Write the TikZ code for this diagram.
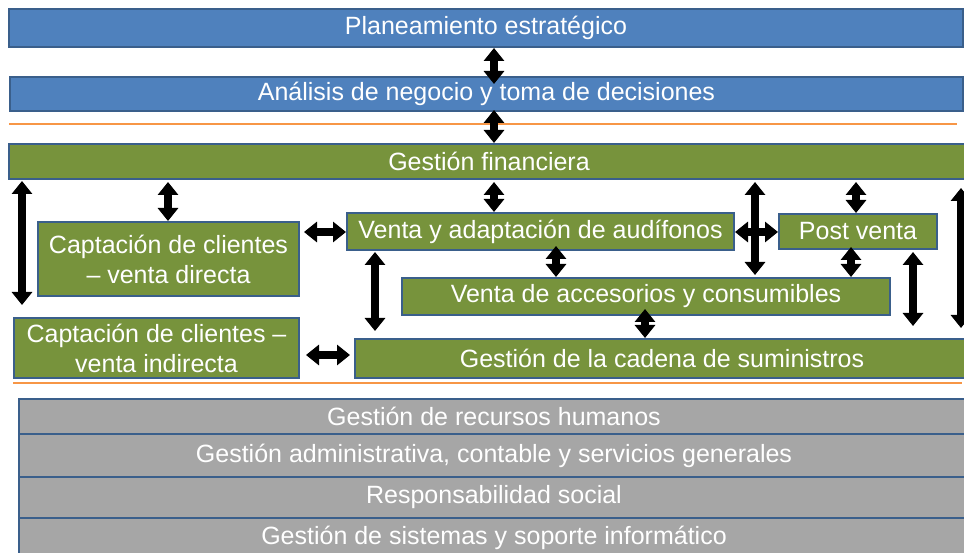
\documentclass[tikz,border=0pt]{standalone}
\usepackage{fontspec}
\setmainfont{Liberation Sans}
\usetikzlibrary{arrows.meta}
\definecolor{bfill}{HTML}{4F81BD}
\definecolor{bord}{HTML}{3A5F8B}
\definecolor{gfill}{HTML}{77933C}
\definecolor{grfill}{HTML}{A6A6A6}
\definecolor{orl}{HTML}{F79646}
\tikzset{
  box/.style={draw=bord, line width=2pt, anchor=north west, inner sep=0pt, text=white, align=center, font=\fontsize{25}{30}\selectfont},
  bluebox/.style={box, fill=bfill},
  greenbox/.style={box, fill=gfill},
  graybox/.style={box, fill=grfill},
  dar/.style={line width=8pt, {Triangle[width=20pt,length=13pt]}-{Triangle[width=20pt,length=13pt]}},
  orline/.style={draw=orl, line width=1.3pt}
}
\begin{document}
\begin{tikzpicture}[x=1pt,y=-1pt]
\useasboundingbox (0,0) rectangle (964,553);
% top blue boxes
\node[bluebox, minimum width=954pt, minimum height=38pt] (pe) at (8,8) {Planeamiento estratégico};
\node[bluebox, minimum width=953pt, minimum height=34pt] (an) at (9,76) {Análisis de negocio y toma de decisiones};
\draw[orline] (9,124) -- (957,124);
% financial
\node[greenbox, minimum width=960pt, minimum height=35pt] (gf) at (8,143) {Gestión financiera};
% middle
\node[greenbox, minimum width=261pt, minimum height=74pt] (cd) at (37,221) {Captación de clientes\\– venta directa};
\node[greenbox, minimum width=285pt, minimum height=60pt] (ci) at (13,317) {Captación de clientes –\\venta indirecta};
\node[greenbox, minimum width=387pt, minimum height=37pt] (va) at (346,212) {Venta y adaptación de audífonos};
\node[greenbox, minimum width=158pt, minimum height=35pt] (pv) at (778,213) {Post venta};
\node[greenbox, minimum width=488pt, minimum height=37pt] (ac) at (401,277) {Venta de accesorios y consumibles};
\node[greenbox, minimum width=614pt, minimum height=39pt] (cs) at (354,338) {Gestión de la cadena de suministros};
\draw[orline] (13,383) -- (962,383);
% bottom gray
\node[graybox, minimum width=950pt, minimum height=35pt] (rh) at (18,398) {Gestión de recursos humanos};
\node[graybox, minimum width=950pt, minimum height=43pt] (ga) at (18,433) {Gestión administrativa, contable y servicios generales};
\node[graybox, minimum width=950pt, minimum height=41pt] (rs) at (18,476) {Responsabilidad social};
\node[graybox, minimum width=950pt, minimum height=40pt] (si) at (18,517) {Gestión de sistemas y soporte informático};
% free ends
\coordinate (l1) at (22,305);
\coordinate (r1a) at (913,252);
\coordinate (r1b) at (913,326);
\coordinate (r2a) at (961,188);
\coordinate (r2b) at (961,328);
% arrows (yshift is in canvas direction: positive = up)
\draw[dar] (494,0 |- pe.south) -- ([yshift=-8pt]494,0 |- an.north);
\draw[dar] ([yshift=2pt]494,0 |- an.south) -- (494,0 |- gf.north);
\draw[dar] ([yshift=-2pt]168,0 |- gf.south) -- (168,0 |- cd.north);
\draw[dar] ([yshift=-1pt]22,0 |- gf.south) -- (l1);
\draw[dar] ([yshift=-2pt]494,0 |- gf.south) -- (494,0 |- va.north);
\draw[dar] ([xshift=4pt]cd.east |- 0,232) -- (va.west |- 0,232);
\draw[dar] (va.east |- 0,232) -- (pv.west |- 0,232);
\draw[dar] ([yshift=-2pt]755,0 |- gf.south) -- ([yshift=2pt]755,0 |- ac.north);
\draw[dar] ([yshift=-2pt]856,0 |- gf.south) -- (856,0 |- pv.north);
\draw[dar] ([yshift=5pt]556,0 |- va.south) -- (556,0 |- ac.north);
\draw[dar] ([yshift=3pt]851,0 |- pv.south) -- (851,0 |- ac.north);
\draw[dar] ([yshift=-1pt]375,0 |- va.south) -- ([yshift=7pt]375,0 |- cs.north);
\draw[dar] ([yshift=7pt]645,0 |- ac.south) -- (645,0 |- cs.north);
\draw[dar] (r1a) -- (r1b);
\draw[dar] (r2a) -- (r2b);
\draw[dar] ([xshift=6pt]ci.east |- 0,355) -- ([xshift=-4pt]cs.west |- 0,355);
\end{tikzpicture}
\end{document}
